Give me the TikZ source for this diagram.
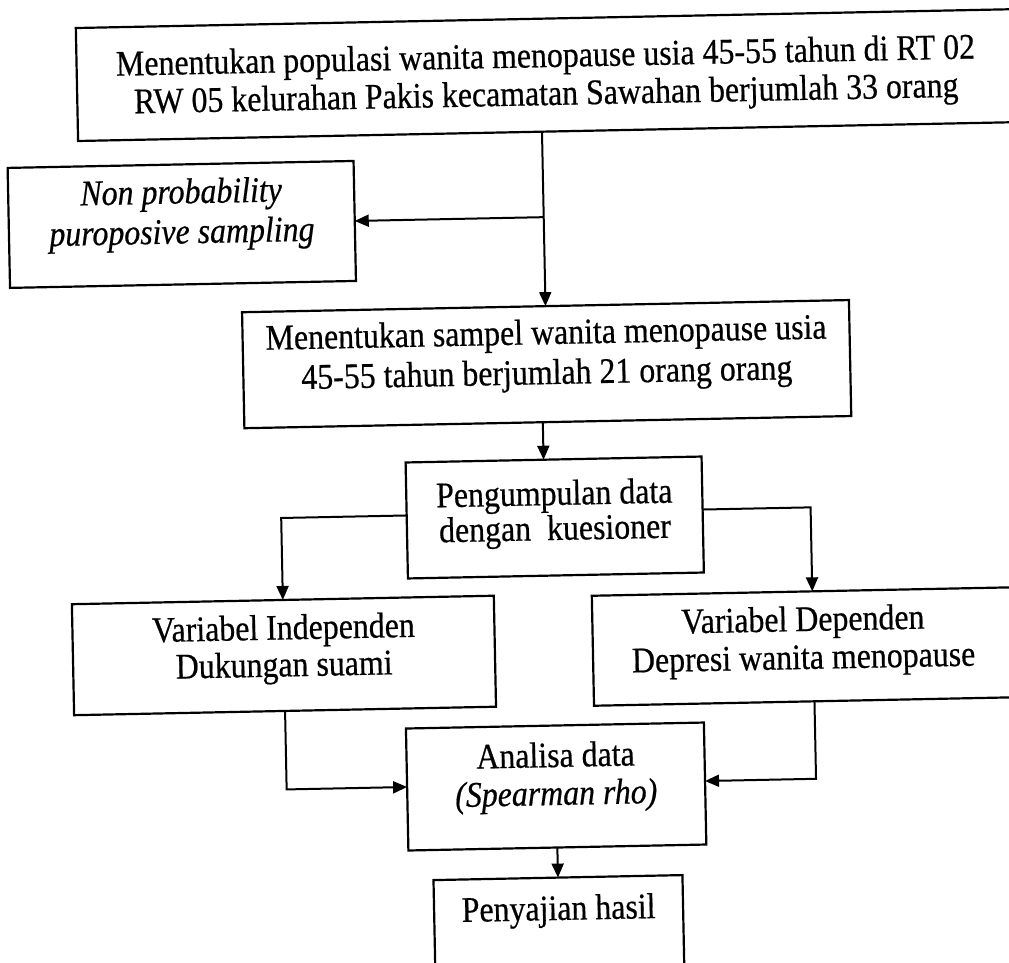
\documentclass[tikz,border=0pt]{standalone}
\usepackage{fontspec}
\setmainfont{Liberation Serif}[FakeStretch=0.885,FakeBold=0.5]
\usetikzlibrary{arrows.meta}
\newcommand\tstr{\rule{0pt}{28pt}}
\begin{document}
\begin{tikzpicture}[x=1pt,y=-1pt,
  box/.style={draw, line width=2.2pt, rectangle, inner sep=0pt, outer sep=0pt},
  txt/.style={font={\fontsize{36}{#1}\selectfont\lineskiplimit=-100pt}, align=center, inner sep=0pt, outer sep=0pt, anchor=north},
  txt/.default=36,
  arr/.style={line width=2pt, -{Triangle[length=14pt,width=12pt]}}]
\useasboundingbox (0,0) rectangle (1009,963);
\fill[white] (0,0) rectangle (1009,963);
\begin{scope}[transform canvas={rotate around={1.15:(504.5,481.5)}}]
  % boxes
  \node[box, minimum width=938pt, minimum height=113pt] (b1) at (554,76) {};
  \node[box, minimum width=346pt, minimum height=120pt] (b2) at (187,218) {};
  \node[box, minimum width=607pt, minimum height=116pt] (b3) at (549,365) {};
  \node[box, minimum width=296pt, minimum height=116pt] (b4) at (554,518.5) {};
  \node[box, minimum width=422pt, minimum height=111pt] (b5) at (280.5,651) {};
  \node[box, minimum width=421pt, minimum height=110pt] (b6) at (800,652.5) {};
  \node[box, minimum width=298pt, minimum height=122pt] (b7) at (550,787.5) {};
  \node[box, minimum width=249pt, minimum height=100pt] (b8) at (550,928.6) {};
  % texts
  \node[txt=38] (t1) at (554,40) {\tstr Menentukan populasi wanita menopause usia 45-55 tahun di RT 02\\RW 05 kelurahan Pakis kecamatan Sawahan berjumlah 33 orang};
  \node[txt=40] (t2) at (187,169) {\tstr\textit{Non probability}\\\textit{puroposive sampling}};
  \node[txt=40] (t3) at (549,317) {\tstr Menentukan sampel wanita menopause usia\\45-55 tahun berjumlah 21 orang orang};
  \node[txt=35] (t4) at (554,478) {\tstr Pengumpulan data\\dengan\ \ kuesioner};
  \node[txt=37] (t5) at (280.5,607) {\tstr Variabel Independen\\Dukungan suami};
  \node[txt=38] (t6) at (800,609) {\tstr Variabel Dependen\\Depresi wanita menopause};
  \node[txt=38] (t7) at (550,740) {\tstr Analisa data\\\textit{(Spearman rho)}};
  \node[txt] (t8) at (550,893) {\tstr Penyajian hasil};
  % connectors
  \draw[arr] (b1.south -| b3.north) -- (b3.north);
  \coordinate (j1) at (b3.north |- b2.east);
  \draw[arr] (j1) -- (b2.east);
  \draw[arr] ([xshift=-10pt]b4.north |- b3.south) -- ([xshift=-10pt]b4.north);
  \draw[arr] ([yshift=5pt]b4.west) -| (b5.north);
  \draw[arr] ([yshift=5pt]b4.east) -| ([xshift=10pt]b6.north);
  \draw[arr] (b5.south) |- ([yshift=2.5pt]b7.west);
  \draw[arr] ([xshift=10pt]b6.south) |- ([yshift=2.5pt]b7.east);
  \draw[arr] (b7.south) -- (b8.north);
\end{scope}
\end{tikzpicture}
\end{document}
